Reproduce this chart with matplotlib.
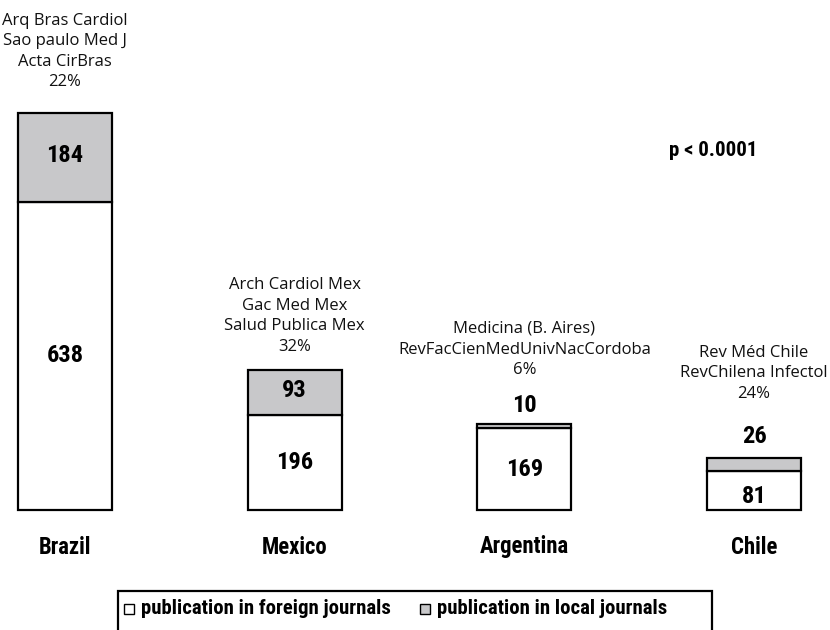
import matplotlib
matplotlib.use("Agg")
import matplotlib.pyplot as plt
from matplotlib.patches import Rectangle
from matplotlib import font_manager

countries = ["Brazil", "Mexico", "Argentina", "Chile"]
foreign = [638, 196, 169, 81]
local = [184, 93, 10, 26]
journals = [
    "Arq Bras Cardiol\nSao paulo Med J\nActa CirBras\n22%",
    "Arch Cardiol Mex\nGac Med Mex\nSalud Publica Mex\n32%",
    "Medicina (B. Aires)\nRevFacCienMedUnivNacCordoba\n6%",
    "Rev Méd Chile\nRevChilena Infectol\n24%",
]
legend_labels = ["publication in foreign journals", "publication in local journals"]
p_text = "p < 0.0001"

# fonts
names = {f.name for f in font_manager.fontManager.ttflist}
bold_family = None
for cand in ["Roboto Condensed", "Liberation Sans Narrow", "Roboto"]:
    if cand in names:
        bold_family = [cand, "DejaVu Sans"]
        break
if bold_family is None:
    bold_family = ["DejaVu Sans"]
reg_family = ["Open Sans", "DejaVu Sans"]

GRAY = "#c8c8ca"
W, H = 830, 630
fig = plt.figure(figsize=(W / 100, H / 100), dpi=100)
renderer = fig.canvas.get_renderer()


def fit_size(text, family, weight, target_px, base=20.0):
    t = fig.text(0, 0, text, fontsize=base, family=family, fontweight=weight)
    w = t.get_window_extent(renderer).width
    t.remove()
    return base * target_px / w


num_fs = fit_size("184", bold_family, "bold", 37)
cat_fs = fit_size("Argentina", bold_family, "bold", 89)
leg_fs = fit_size(legend_labels[1], bold_family, "bold", 230)
p_fs = fit_size(p_text, bold_family, "bold", 88)
j_fs = fit_size("Salud Publica Mex", reg_family, "normal", 141)

ax = fig.add_axes([0, 0, 1, 1])
spacing = 229.67
x0 = 65
ax.set_xlim(-x0 / spacing, (W - x0) / spacing)
scale = 0.483  # px per unit
base_px = 510
ax.set_ylim(-(H - base_px) / scale, base_px / scale)
ax.axis("off")

xs = list(range(len(countries)))
bw = 94 / spacing
ax.bar(xs, foreign, width=bw, color="white", edgecolor="black", linewidth=1.6, zorder=2)
ax.bar(xs, local, bottom=foreign, width=bw, color=GRAY, edgecolor="black", linewidth=1.6, zorder=2)

# value labels
foreign_dy = [0, 0, 0, -6]
for i in xs:
    ax.annotate(str(foreign[i]), (i, foreign[i] / 2), xytext=(0, foreign_dy[i]),
                textcoords="offset pixels", ha="center", va="center",
                fontsize=num_fs, fontweight="bold", family=bold_family)
inside = [True, True, False, False]
above_gap = [0, 0, 7, 10]
for i in xs:
    top = foreign[i] + local[i]
    if inside[i]:
        ax.annotate(str(local[i]), (i, foreign[i] + local[i] / 2), xytext=(0, 2),
                    textcoords="offset pixels", ha="center", va="center",
                    fontsize=num_fs, fontweight="bold", family=bold_family)
    else:
        ax.annotate(str(local[i]), (i, top), xytext=(0, above_gap[i]),
                    textcoords="offset pixels", ha="center", va="bottom",
                    fontsize=num_fs, fontweight="bold", family=bold_family)

# journal texts
j_off = [61.5, 54.5, 74, 85]
for i in xs:
    top = foreign[i] + local[i]
    ax.annotate(journals[i], (i, top), xytext=(0, j_off[i]), textcoords="offset pixels",
                ha="center", va="center", fontsize=j_fs, family=reg_family,
                linespacing=1.38, color="#111111")

# category labels
for i in xs:
    ax.annotate(countries[i], (i, 0), xytext=(0, -37), textcoords="offset pixels",
                ha="center", va="center", fontsize=cat_fs, fontweight="bold", family=bold_family)

# p value
fig.text(669 / W, 1 - 151 / H, p_text, ha="left", va="center", fontsize=p_fs,
         fontweight="bold", family=bold_family)

# legend box
fig.patches.append(Rectangle((118 / W, 1 - 660 / H), (712 - 118) / W, (660 - 591) / H,
                             transform=fig.transFigure, facecolor="white",
                             edgecolor="black", linewidth=1.6, zorder=1))
leg_y = 1 - 609 / H
for mx, col, lab in [(129, "white", legend_labels[0]), (425, GRAY, legend_labels[1])]:
    fig.patches.append(Rectangle(((mx - 5) / W, leg_y - 5 / H), 10 / W, 10 / H,
                                 transform=fig.transFigure, facecolor=col,
                                 edgecolor="black", linewidth=1.0, zorder=3))
    fig.text((mx + 12) / W, leg_y, lab, ha="left", va="center", fontsize=leg_fs,
             fontweight="bold", family=bold_family)

fig.savefig("out.png", dpi=100)
